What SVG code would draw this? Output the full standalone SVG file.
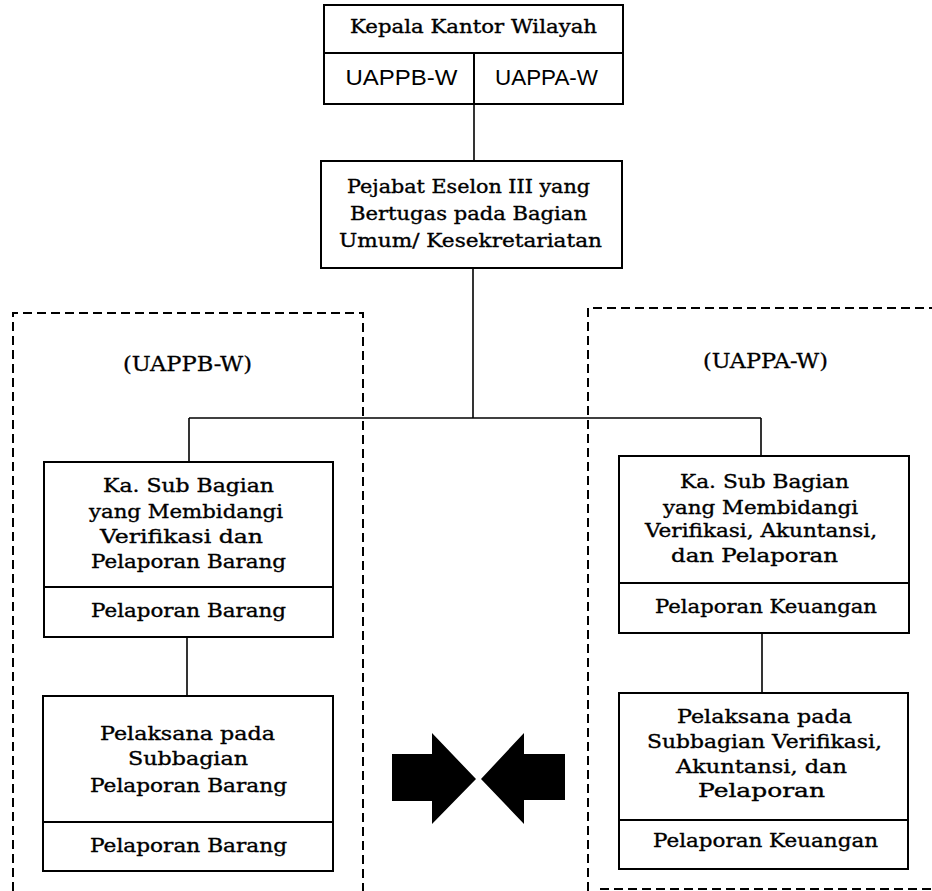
<svg xmlns="http://www.w3.org/2000/svg" width="932" height="891" viewBox="0 0 932 891">
  <style>
    .box { fill: #fff; stroke: #000; stroke-width: 2; }
    .div { stroke: #000; stroke-width: 2; fill: none; }
    .conn { stroke: #000; stroke-width: 1.6; fill: none; }
    .dash { stroke: #000; stroke-width: 2; fill: none; stroke-dasharray: 9 5; }
    .t { font-family: "DejaVu Serif", "Liberation Serif", serif; font-size: 18.5px; fill: #000; stroke: #000; stroke-width: 0.35; text-anchor: middle; }
    .s { font-family: "Liberation Sans", Arial, sans-serif; font-size: 22px; fill: #000; text-anchor: middle; }
    .lbl { font-family: "DejaVu Serif", "Liberation Serif", serif; font-size: 20px; fill: #000; stroke: #000; stroke-width: 0.3; text-anchor: middle; }
  </style>
  <rect width="932" height="891" fill="#fff"/>

  <!-- dashed grouping regions -->
  <g id="regions">
    <path class="dash" d="M13,891 V313 H363 V891"/>
    <path class="dash" d="M588,891 V308 H932"/>
    <path class="dash" d="M600,889 H932"/>
    <text class="lbl" x="187.5" y="371" textLength="129" lengthAdjust="spacingAndGlyphs">(UAPPB-W)</text>
    <text class="lbl" x="765.5" y="368" textLength="125" lengthAdjust="spacingAndGlyphs">(UAPPA-W)</text>
  </g>

  <!-- connectors -->
  <g id="connectors">
    <path class="conn" d="M474,104 V161"/>
    <path class="conn" d="M473,268 V418"/>
    <path class="conn" d="M189,418 H761"/>
    <path class="conn" d="M189,418 V462"/>
    <path class="conn" d="M761,418 V456"/>
    <path class="conn" d="M187,637 V696"/>
    <path class="conn" d="M762,633 V693"/>
  </g>

  <g id="kepala-kantor">
    <rect class="box" x="324" y="5" width="299" height="99"/>
    <path class="div" d="M324,53 H623 M474,53 V104"/>
    <text class="t" x="473.5" y="33" textLength="247" lengthAdjust="spacingAndGlyphs">Kepala Kantor Wilayah</text>
    <text class="s" x="401.5" y="85" textLength="112" lengthAdjust="spacingAndGlyphs">UAPPB-W</text>
    <text class="s" x="546.5" y="85" textLength="103" lengthAdjust="spacingAndGlyphs">UAPPA-W</text>
  </g>

  <g id="eselon-iii">
    <rect class="box" x="321" y="161" width="301" height="107"/>
    <text class="t" x="468.5" y="193" textLength="243" lengthAdjust="spacingAndGlyphs">Pejabat Eselon III yang</text>
    <text class="t" x="468.5" y="220" textLength="237" lengthAdjust="spacingAndGlyphs">Bertugas pada Bagian</text>
    <text class="t" x="470.5" y="247" textLength="263" lengthAdjust="spacingAndGlyphs">Umum/ Kesekretariatan</text>
  </g>

  <g id="kasub-barang">
    <rect class="box" x="44" y="462" width="289" height="175"/>
    <path class="div" d="M44,587 H333"/>
    <text class="t" x="188.5" y="492" textLength="171" lengthAdjust="spacingAndGlyphs">Ka. Sub Bagian</text>
    <text class="t" x="186" y="518" textLength="194" lengthAdjust="spacingAndGlyphs">yang Membidangi</text>
    <text class="t" x="181.5" y="543" textLength="163" lengthAdjust="spacingAndGlyphs">Verifikasi dan</text>
    <text class="t" x="188.5" y="568" textLength="195" lengthAdjust="spacingAndGlyphs">Pelaporan Barang</text>
    <text class="t" x="188.5" y="617" textLength="195" lengthAdjust="spacingAndGlyphs">Pelaporan Barang</text>
  </g>

  <g id="kasub-keuangan">
    <rect class="box" x="619" y="456" width="290" height="177"/>
    <path class="div" d="M619,583 H909"/>
    <text class="t" x="764.5" y="488" textLength="169" lengthAdjust="spacingAndGlyphs">Ka. Sub Bagian</text>
    <text class="t" x="760.5" y="514" textLength="195" lengthAdjust="spacingAndGlyphs">yang Membidangi</text>
    <text class="t" x="761" y="537" textLength="232" lengthAdjust="spacingAndGlyphs">Verifikasi, Akuntansi,</text>
    <text class="t" x="754.5" y="562" textLength="167" lengthAdjust="spacingAndGlyphs">dan Pelaporan</text>
    <text class="t" x="766" y="613" textLength="222" lengthAdjust="spacingAndGlyphs">Pelaporan Keuangan</text>
  </g>

  <g id="pelaksana-barang">
    <rect class="box" x="43" y="696" width="290" height="175"/>
    <path class="div" d="M43,822 H333"/>
    <text class="t" x="187.5" y="740" textLength="175" lengthAdjust="spacingAndGlyphs">Pelaksana pada</text>
    <text class="t" x="188" y="765" textLength="120" lengthAdjust="spacingAndGlyphs">Subbagian</text>
    <text class="t" x="188.5" y="792" textLength="197" lengthAdjust="spacingAndGlyphs">Pelaporan Barang</text>
    <text class="t" x="188.5" y="852" textLength="197" lengthAdjust="spacingAndGlyphs">Pelaporan Barang</text>
  </g>

  <g id="pelaksana-keuangan">
    <rect class="box" x="619" y="693" width="289" height="176"/>
    <path class="div" d="M619,820 H908"/>
    <text class="t" x="764.5" y="723" textLength="175" lengthAdjust="spacingAndGlyphs">Pelaksana pada</text>
    <text class="t" x="764.5" y="748" textLength="235" lengthAdjust="spacingAndGlyphs">Subbagian Verifikasi,</text>
    <text class="t" x="761.5" y="773" textLength="171" lengthAdjust="spacingAndGlyphs">Akuntansi, dan</text>
    <text class="t" x="761.5" y="797" textLength="127" lengthAdjust="spacingAndGlyphs">Pelaporan</text>
    <text class="t" x="765.5" y="847" textLength="225" lengthAdjust="spacingAndGlyphs">Pelaporan Keuangan</text>
  </g>

  <!-- opposing block arrows between the two regions -->
  <g id="arrows">
    <polygon points="392,754 432,754 432,733 476,779 432,824 432,801 392,801" fill="#000"/>
    <polygon points="565,754 524,754 524,733 481,779 524,824 524,800 565,800" fill="#000"/>
  </g>
</svg>
